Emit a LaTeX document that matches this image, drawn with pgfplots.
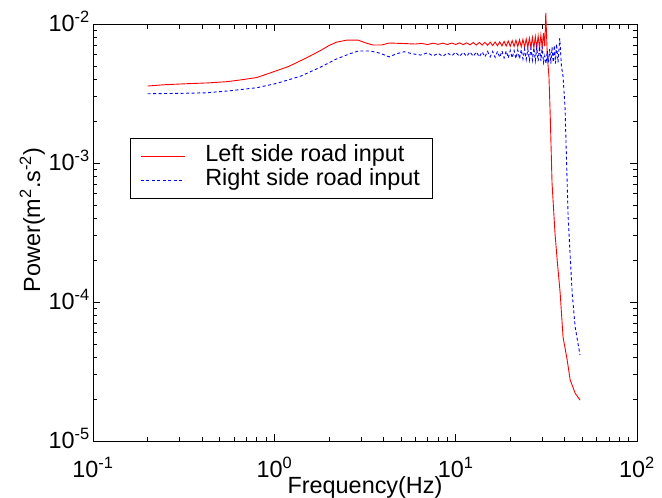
\documentclass[border=0pt]{standalone}
\usepackage{fontspec}
\setmainfont{Liberation Sans}
\usepackage{pgfplots}
\pgfplotsset{compat=1.18}
\newcommand{\fs}{\fontsize{23.5}{27}\selectfont}
\begin{document}
\begin{tikzpicture}
\begin{axis}[
  scale only axis, width=544bp, height=417bp,
  xmode=log, ymode=log,
  xmin=0.1, xmax=100, ymin=1e-5, ymax=1e-2,
  clip=false,
  axis line style={line width=0.9bp, black},
  tick align=inside, tick pos=both,
  major tick length=7bp, minor tick length=4.5bp,
  every tick/.style={black, line width=0.7bp},
  xtick={0.1,1,10,100},
  xticklabels={10\textsuperscript{-1},10\textsuperscript{0},10\textsuperscript{1},10\textsuperscript{2}},
  ytick={1e-5,1e-4,1e-3,1e-2},
  yticklabels={10\textsuperscript{-5},10\textsuperscript{-4},10\textsuperscript{-3},10\textsuperscript{-2}},
  xticklabel style={font=\fs, inner sep=0pt, anchor=base, yshift=-36bp},
  yticklabel style={font=\fs, inner sep=0pt, anchor=base east, xshift=-3bp, yshift=-7bp},
  xlabel={Frequency(Hz)},
  ylabel={Power(m\textsuperscript{2}.s\textsuperscript{-2})},
  xlabel style={font=\fs, at={(axis description cs:0.5,-0.127)}, anchor=base, inner sep=0pt},
  ylabel style={font=\fs, at={(axis description cs:-0.097,0.53)}, anchor=base, inner sep=0pt},
  legend image code/.code={\draw[#1] (0bp,0bp) -- (44bp,0bp);},
  legend style={font=\fs, at={(axis description cs:0.068,0.727)}, anchor=north west,
    draw=black, line width=0.8bp, inner xsep=10bp, inner ysep=6bp, row sep=0bp,
    cells={anchor=west}, nodes={inner xsep=2bp, inner ysep=0bp, text height=17bp, text depth=7bp},
    /tikz/every odd column/.append style={column sep=18bp}},
  legend cell align=left,
]
\addplot[red, line width=0.9bp] coordinates {
(0.2,3.58e-3) (0.25,3.66e-3) (0.33,3.72e-3) (0.43,3.77e-3) (0.55,3.85e-3)
(0.65,3.96e-3) (0.8,4.12e-3) (0.95,4.45e-3) (1.2,4.95e-3) (1.5,5.7e-3)
(1.8,6.45e-3) (2.0,7.0e-3) (2.2,7.4e-3) (2.5,7.65e-3) (2.9,7.65e-3)
(3.2,7.3e-3) (3.5,7.06e-3) (3.9,7.06e-3) (4.3,7.3e-3) (5.0,7.25e-3)
(6.0,7.18e-3) (6.5,7.25e-3) (7.0,7.12e-3) (7.5,7.28e-3) (8.0,7.14e-3)
(8.5,7.28e-3) (9.0,7.12e-3) (9.5,7.3e-3) (10.0,7.12e-3) (10.5,7.32e-3)
(11.0,7.1e-3) (11.5,7.32e-3) (12.0,7.08e-3) (12.5,7.35e-3) (13.0,7.06e-3)
(13.5,7.37e-3) (14.0,7.05e-3) (14.5,7.38e-3) (15.0,7.03e-3) (15.5,7.4e-3)
(16.0,7.0e-3) (16.5,7.42e-3) (17.0,6.98e-3) (17.5,7.45e-3) (18.0,6.96e-3)
(18.5,7.5e-3) (19.0,6.94e-3) (19.5,7.55e-3) (20.0,6.92e-3) (20.5,7.6e-3)
(21.0,6.9e-3) (21.5,7.65e-3) (22.0,6.88e-3) (22.5,7.7e-3) (23.0,6.85e-3)
(23.5,7.75e-3) (24.0,6.82e-3) (24.5,7.8e-3) (25.0,6.8e-3) (25.5,7.9e-3)
(26.0,6.78e-3) (26.5,8.0e-3) (27.0,6.75e-3) (27.5,8.1e-3) (28.0,6.72e-3)
(28.5,8.2e-3) (29.0,6.7e-3) (29.5,8.3e-3) (30.0,6.8e-3) (30.5,8.6e-3)
(31.0,6.9e-3) (31.4,1.2e-2) (32.0,6.0e-3) (32.7,4.16e-3) (33.2,2.29e-3)
(34.0,7.18e-4) (35.3,3.13e-4) (36.3,2.0e-4) (37.7,1.16e-4) (39.1,5.6e-5)
(41.2,3.83e-5) (42.8,2.75e-5) (45.6,2.21e-5) (48.5,1.97e-5)
};
\addlegendentry{Left side road input}
\addplot[blue, line width=0.9bp, dash pattern=on 3bp off 2.5bp] coordinates {
(0.2,3.15e-3) (0.3,3.17e-3) (0.42,3.2e-3) (0.57,3.31e-3) (0.8,3.48e-3)
(1.03,3.74e-3) (1.4,4.22e-3) (1.8,4.9e-3) (2.2,5.6e-3) (2.6,6.1e-3)
(2.9,6.39e-3) (3.4,6.39e-3) (3.85,6.15e-3) (4.3,5.8e-3) (4.7,6.1e-3)
(5.2,6.32e-3) (5.8,6.1e-3) (6.4,5.98e-3) (7.0,6.2e-3) (7.5,5.9e-3)
(8.0,6.15e-3) (8.5,5.85e-3) (9.0,6.2e-3) (9.5,5.9e-3) (10.0,6.25e-3)
(10.5,5.85e-3) (11.0,6.25e-3) (11.5,5.85e-3) (12.0,6.3e-3) (12.5,5.85e-3)
(13.0,6.3e-3) (13.5,5.8e-3) (14.0,6.3e-3) (14.5,5.8e-3) (15.0,6.35e-3)
(15.5,5.8e-3) (16.0,6.35e-3) (16.5,5.75e-3) (17.0,6.35e-3) (17.5,5.75e-3)
(18.0,6.4e-3) (18.5,5.7e-3) (19.0,6.4e-3) (19.5,5.7e-3) (20.0,6.45e-3)
(20.5,5.7e-3) (21.0,6.45e-3) (21.5,5.65e-3) (22.0,6.5e-3) (22.5,5.6e-3)
(23.0,6.55e-3) (23.5,5.6e-3) (24.0,6.6e-3) (24.5,5.55e-3) (25.0,6.6e-3)
(25.5,5.5e-3) (26.0,6.7e-3) (26.5,5.5e-3) (27.0,6.75e-3) (27.5,5.45e-3)
(28.0,6.8e-3) (28.5,5.4e-3) (29.0,6.9e-3) (29.5,5.4e-3) (30.0,6.9e-3)
(30.5,5.3e-3) (31.0,5.9e-3) (31.5,5.2e-3) (32.0,6.4e-3) (32.5,5.3e-3)
(33.0,6.6e-3) (33.5,5.2e-3) (34.0,6.8e-3) (34.5,5.3e-3) (35.0,7.0e-3)
(35.5,5.2e-3) (36.0,7.2e-3) (36.7,5.3e-3) (37.5,7.9e-3) (38.3,5.0e-3)
(39.1,4.2e-3) (40.1,2.5e-3) (41.2,7.2e-4) (41.7,4.1e-4) (43.9,1.16e-4)
(45.6,6.6e-5) (48.5,4.16e-5)
};
\addlegendentry{Right side road input}
\end{axis}
\pgfresetboundingbox
\useasboundingbox (-93bp,-57bp) rectangle (569bp,441bp);
\end{tikzpicture}
\end{document}
